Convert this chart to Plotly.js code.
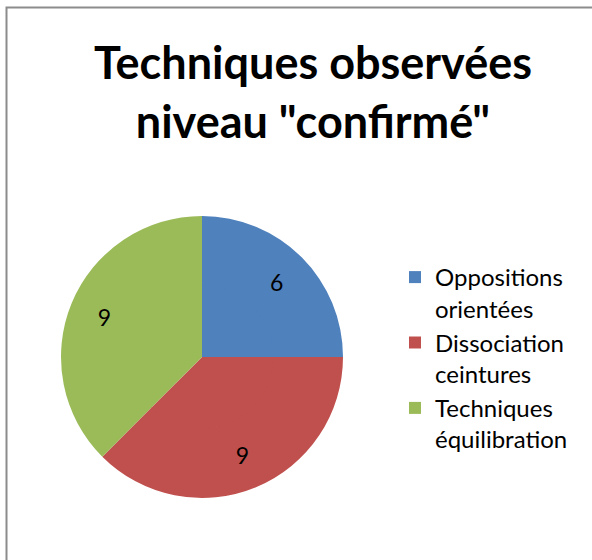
<!DOCTYPE html>
<html>
<head>
<meta charset="utf-8">
<script src="https://cdn.plot.ly/plotly-3.0.1.min.js"></script>
<style>html,body{margin:0;padding:0;background:#fff;}#chart{width:592px;height:560px;}</style>
</head>
<body>
<div id="chart"></div>
<script>
var categories = ["Oppositions<br>orientées", "Dissociation<br>ceintures", "Techniques<br>équilibration"];
var values = [6, 9, 9];
var colors = ["#4F81BD", "#C0504D", "#9BBB59"];
var titleText = "Techniques observées<br>niveau \"confirmé\"";

var W = 592, H = 560;
var FONT = "Lato, 'Open Sans', sans-serif";
var cx = 202, cy = 357, R = 141;
var HOLE = 0.5;

// outer ring carries the value labels (placed mid-ring, like the reference)
var outer = {
  type: "pie",
  labels: categories,
  values: values,
  sort: false,
  direction: "clockwise",
  rotation: 0,
  hole: HOLE,
  marker: {colors: colors, line: {width: 0}},
  textinfo: "value",
  textposition: "inside",
  insidetextorientation: "horizontal",
  insidetextfont: {family: FONT, size: 23, color: "#000"},
  hoverinfo: "label+value",
  domain: {x: [(cx - R)/W, (cx + R)/W], y: [1 - (cy + R)/H, 1 - (cy - R)/H]}
};
// inner disc fills the hole with the same slices
var rIn = R * HOLE + 1;
var inner = {
  type: "pie",
  labels: categories,
  values: values,
  sort: false,
  direction: "clockwise",
  rotation: 0,
  marker: {colors: colors, line: {width: 0}},
  textinfo: "none",
  showlegend: false,
  hoverinfo: "label+value",
  domain: {x: [(cx - rIn)/W, (cx + rIn)/W], y: [1 - (cy + rIn)/H, 1 - (cy - rIn)/H]}
};
var layout = {
  width: W, height: H,
  margin: {l: 0, r: 0, t: 0, b: 0},
  paper_bgcolor: "#fff",
  font: {family: FONT, color: "#000"},
  title: {
    text: titleText,
    font: {family: FONT, size: 45, color: "#000", weight: "bold"},
    x: 313/W, xanchor: "center",
    y: 1 - 79/H, yanchor: "middle"
  },
  showlegend: true,
  legend: {
    x: 395/W, xanchor: "left",
    y: 1 - 255/H, yanchor: "top",
    valign: "top",
    font: {size: 24, color: "#000", family: FONT},
    bgcolor: "rgba(0,0,0,0)",
    itemwidth: 30
  },
  shapes: [{
    type: "rect", xref: "paper", yref: "paper",
    x0: 6.5/W, x1: 1.05, y0: -0.05, y1: 1 - 7.5/H,
    line: {color: "#8C8C8C", width: 2}
  }]
};
Plotly.newPlot("chart", [outer, inner], layout, {displayModeBar: false, staticPlot: true});
</script>
</body>
</html>
